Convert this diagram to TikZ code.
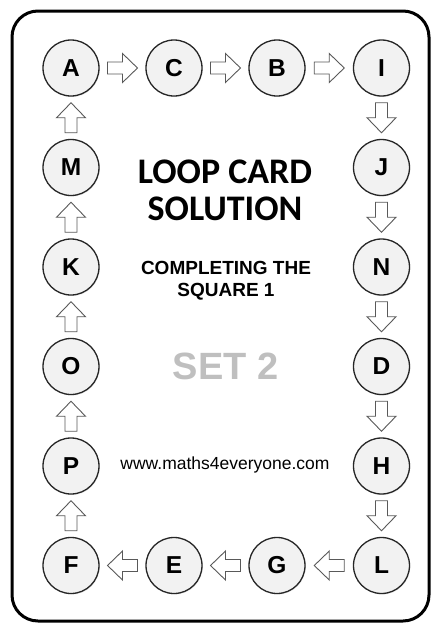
\documentclass[tikz,border=0pt]{standalone}
\usepackage{fontspec}
\usetikzlibrary{shadows}
\setmainfont{Liberation Sans}
\newfontfamily\calibri{Carlito}
\begin{document}
\begin{tikzpicture}[x=1pt,y=-1pt,
  card/.style={circle, draw=black!85, line width=1.3pt, fill=black!5, minimum size=56pt, inner sep=0pt,
     drop shadow={opacity=0.18, shadow xshift=0.8pt, shadow yshift=-1pt},
     font=\fontsize{24.5}{24.5}\selectfont\bfseries},
  blockarr/.pic={\draw[draw=black!65, fill=white, line width=0.9pt, line join=miter]
     (-15,-6) -- (0,-6) -- (0,-14.5) -- (15,0) -- (0,14.5) -- (0,6) -- (-15,6) -- cycle;},
  flow/.style={draw=none}
]
\useasboundingbox (0,0) rectangle (431,625);
\draw[line width=3pt, rounded corners=26pt] (12,11) rectangle (429,621);

% top row
\node[card] (A) at (71,68) {A};
\node[card] (C) at (174,68) {C};
\node[card] (B) at (277,68) {B};
\node[card] (I) at (381.5,68) {I};
% right column
\node[card] (J) at (381.5,167.5) {J};
\node[card] (N) at (381.5,267) {N};
\node[card] (D) at (381.5,366.5) {D};
\node[card] (H) at (381.5,466) {H};
\node[card] (L) at (381.5,565.5) {L};
% bottom row
\node[card] (G) at (277,565.5) {G};
\node[card] (E) at (174,565.5) {E};
\node[card] (F) at (71,565.5) {F};
% left column
\node[card] (P) at (71,466) {P};
\node[card] (O) at (71,366.5) {O};
\node[card] (K) at (71,267) {K};
\node[card] (M) at (71,167.5) {M};

\foreach \s/\t in {A/C, C/B, B/I, I/J, J/N, N/D, D/H, H/L, L/G, G/E, E/F, F/P, P/O, O/K, K/M, M/A}
  \path[flow] (\s) -- pic[pos=0.5, sloped, allow upside down]{blockarr} (\t);

% centre texts
\node[font=\calibri\fontsize{36}{37}\selectfont\bfseries, align=center] (title) at (225,190) {LOOP CARD\\SOLUTION};
\node[font=\fontsize{19}{22}\selectfont\bfseries, align=center] (sub) at (226,281) {COMPLETING THE\\SQUARE 1};
\node[font=\fontsize{38}{38}\selectfont\bfseries, text=black!25] (set) at (225.5,366.5) {SET 2};
\node[font=\fontsize{17.5}{18}\selectfont] (url) at (225,465) {www.maths4everyone.com};
\end{tikzpicture}
\end{document}
